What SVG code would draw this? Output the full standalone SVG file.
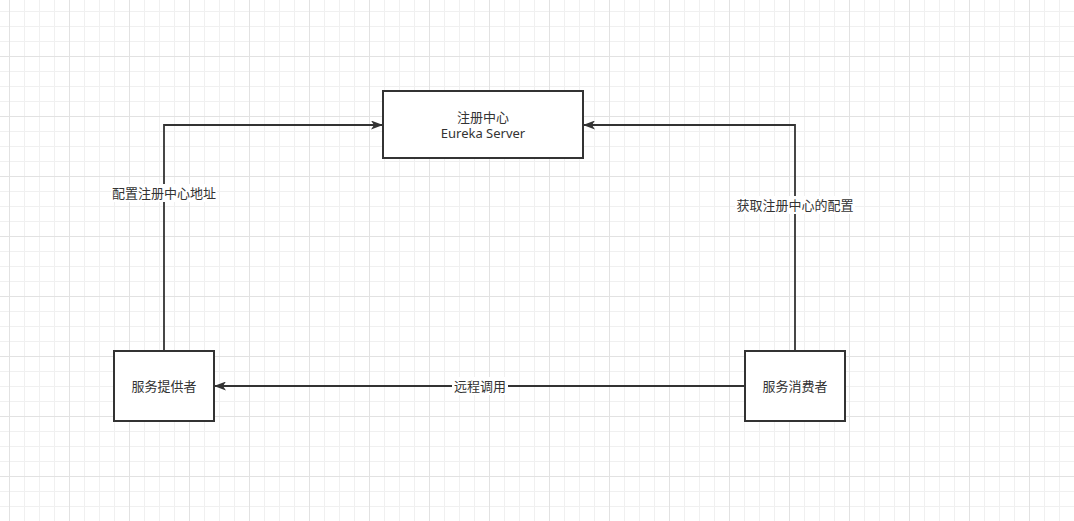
<svg xmlns="http://www.w3.org/2000/svg" width="1074" height="521" viewBox="0 0 1074 521">
  <style>
    .box { fill: #ffffff; stroke: #333333; stroke-width: 2; }
    .edge { fill: none; stroke: #333333; stroke-width: 1.8; }
    .t { font-family: "Noto Sans", "Noto Sans CJK SC", sans-serif; font-size: 13px; fill: #333333; text-anchor: middle; dominant-baseline: central; }
  </style>
  <defs>
    <pattern id="minor" x="9" y="11" width="15" height="15" patternUnits="userSpaceOnUse">
      <path d="M0.5 0 V15 M0 0.5 H15" stroke="#f0f0f0" stroke-width="1" fill="none"/>
    </pattern>
    <pattern id="major" x="9" y="-4" width="60" height="60" patternUnits="userSpaceOnUse">
      <path d="M0.5 0 V60 M0 0.5 H60" stroke="#e2e2e2" stroke-width="1" fill="none"/>
    </pattern>
    <marker id="arrow" viewBox="0 0 12 9" refX="11" refY="4.5" markerWidth="12" markerHeight="9" markerUnits="userSpaceOnUse" orient="auto">
      <path d="M0,0 L12,4.5 L0,9 L3,4.5 z" fill="#333333"/>
    </marker>
  </defs>
  <rect width="1074" height="521" fill="#ffffff"/>
  <rect width="1074" height="521" fill="url(#minor)"/>
  <rect width="1074" height="521" fill="url(#major)"/>

  <g id="connectors">
    <path class="edge" d="M164 351 V125 H382" marker-end="url(#arrow)"/>
    <path class="edge" d="M795 351 V125 H584" marker-end="url(#arrow)"/>
    <path class="edge" d="M745 386 H215" marker-end="url(#arrow)"/>
    <rect x="111" y="184" width="106" height="18" fill="#ffffff"/>
    <text class="t" x="164" y="193">配置注册中心地址</text>
    <rect x="735" y="196" width="120" height="18" fill="#ffffff"/>
    <text class="t" x="795" y="205">获取注册中心的配置</text>
    <rect x="452" y="377" width="56" height="18" fill="#ffffff"/>
    <text class="t" x="480" y="386">远程调用</text>
  </g>

  <g id="registry">
    <rect class="box" x="383" y="91" width="200" height="67"/>
    <text class="t" x="483" y="117">注册中心</text>
    <text class="t" x="483" y="133">Eureka Server</text>
  </g>

  <g id="provider">
    <rect class="box" x="114" y="351" width="100" height="70"/>
    <text class="t" x="164" y="386">服务提供者</text>
  </g>

  <g id="consumer">
    <rect class="box" x="745" y="351" width="100" height="70"/>
    <text class="t" x="795" y="386">服务消费者</text>
  </g>
</svg>
